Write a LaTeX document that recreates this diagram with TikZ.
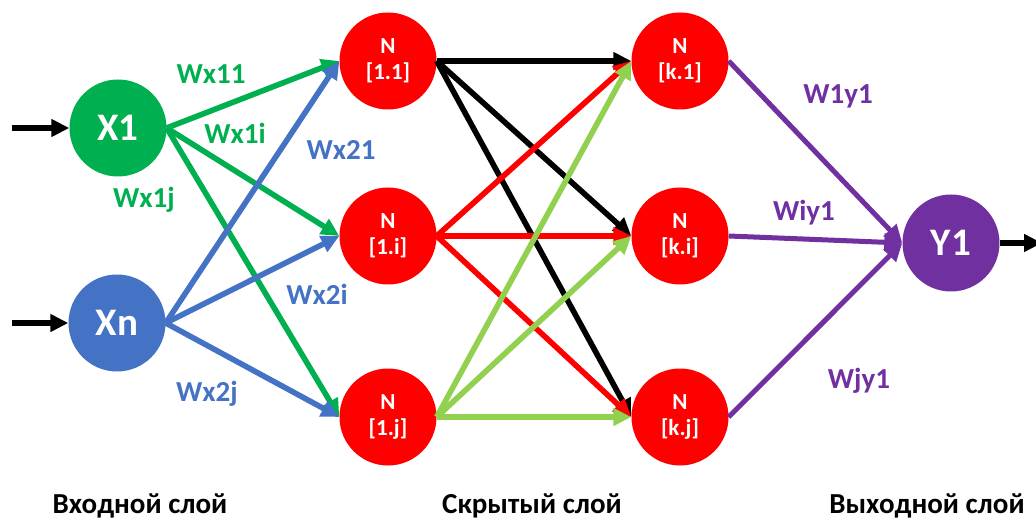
\documentclass[tikz,border=0pt]{standalone}
\usepackage{fontspec}
\setmainfont{Carlito}
\usetikzlibrary{arrows.meta}
\definecolor{cgreen}{HTML}{00B050}
\definecolor{cblue}{HTML}{4472C4}
\definecolor{cred}{HTML}{FF0000}
\definecolor{cpurple}{HTML}{7030A0}
\definecolor{clight}{HTML}{92D050}
\begin{document}
\begin{tikzpicture}[x=1pt,y=-1pt,
  neuron/.style={circle, minimum size=97pt, inner sep=0pt, fill=cred, text=white,
    font=\bfseries\fontsize{23}{26}\selectfont, align=center},
  bignode/.style={circle, minimum size=97pt, inner sep=0pt, text=white,
    font=\bfseries\fontsize{39}{40}\selectfont},
  conn/.style={line width=5.6pt, -{Triangle[length=18pt,width=17pt]}},
  pconn/.style={line width=5pt, cpurple, -{Triangle[length=18pt,width=17pt]}},
  wlab/.style={font=\bfseries\fontsize{29}{30}\selectfont, inner sep=0pt},
  layer/.style={font=\bfseries\fontsize{29}{30}\selectfont, anchor=base, inner sep=0pt}]
\useasboundingbox (0,0) rectangle (1036,521);

% nodes
\node[bignode, fill=cgreen] (X1) at (118,128) {X1};
\node[bignode, fill=cblue] (Xn) at (117,323) {Xn};
\node[neuron] (N11) at (388,61) {N\\{[1.1]}};
\node[neuron] (N1i) at (388,236) {N\\{[1.i]}};
\node[neuron] (N1j) at (388,417) {N\\{[1.j]}};
\node[neuron] (Nk1) at (680,61) {N\\{[k.1]}};
\node[neuron] (Nki) at (680,236) {N\\{[k.i]}};
\node[neuron] (Nkj) at (680,417) {N\\{[k.j]}};
\node[bignode, fill=cpurple] (Y1) at (951,243) {Y1};

\coordinate (in1) at (12,128);
\coordinate (in2) at (12,323);
\coordinate (out) at (1042,243);

% input arrows
\draw[conn, black] (in1) -- (X1.west);
\draw[conn, black] (in2) -- (Xn.west);
\draw[conn, black] (Y1.east) -- (out);

% input -> hidden 1
\draw[conn, cgreen] (X1.east) -- (N11.west);
\draw[conn, cgreen] (X1.east) -- (N1i.west);
\draw[conn, cgreen] (X1.east) -- (N1j.west);
\draw[conn, cblue] (Xn.east) -- (N11.west);
\draw[conn, cblue] (Xn.east) -- (N1i.west);
\draw[conn, cblue] (Xn.east) -- (N1j.west);

% hidden 1 -> hidden k
\draw[conn, black] (N11.east) -- (Nk1.west);
\draw[conn, black] (N11.east) -- (Nki.west);
\draw[conn, black] (N11.east) -- (Nkj.west);
\draw[conn, cred] (N1i.east) -- (Nk1.west);
\draw[conn, cred] (N1i.east) -- (Nki.west);
\draw[conn, cred] (N1i.east) -- (Nkj.west);
\draw[conn, clight] (N1j.east) -- (Nk1.west);
\draw[conn, clight] (N1j.east) -- (Nki.west);
\draw[conn, clight] (N1j.east) -- (Nkj.west);

% hidden k -> output
\draw[pconn] (Nk1.east) -- (Y1.west);
\draw[pconn] (Nki.east) -- (Y1.west);
\draw[pconn] (Nkj.east) -- (Y1.west);

% weight labels
\node[wlab, text=cgreen] (l1) at (211,74) {Wx11};
\node[wlab, text=cgreen] (l2) at (235,133) {Wx1i};
\node[wlab, text=cgreen] (l3) at (144,200) {Wx1j};
\node[wlab, text=cblue] (l4) at (341,150) {Wx21};
\node[wlab, text=cblue] (l5) at (317,294) {Wx2i};
\node[wlab, text=cblue] (l6) at (207,394) {Wx2j};
\node[wlab, text=cpurple] (l7) at (838,96) {W1y1};
\node[wlab, text=cpurple] (l8) at (804,213) {Wiy1};
\node[wlab, text=cpurple] (l9) at (859,381) {Wjy1};

% layer labels
\node[layer] (L1) at (140,513) {Входной слой};
\node[layer] (L2) at (532,513) {Скрытый слой};
\node[layer] (L3) at (927,513) {Выходной слой};
\end{tikzpicture}
\end{document}
